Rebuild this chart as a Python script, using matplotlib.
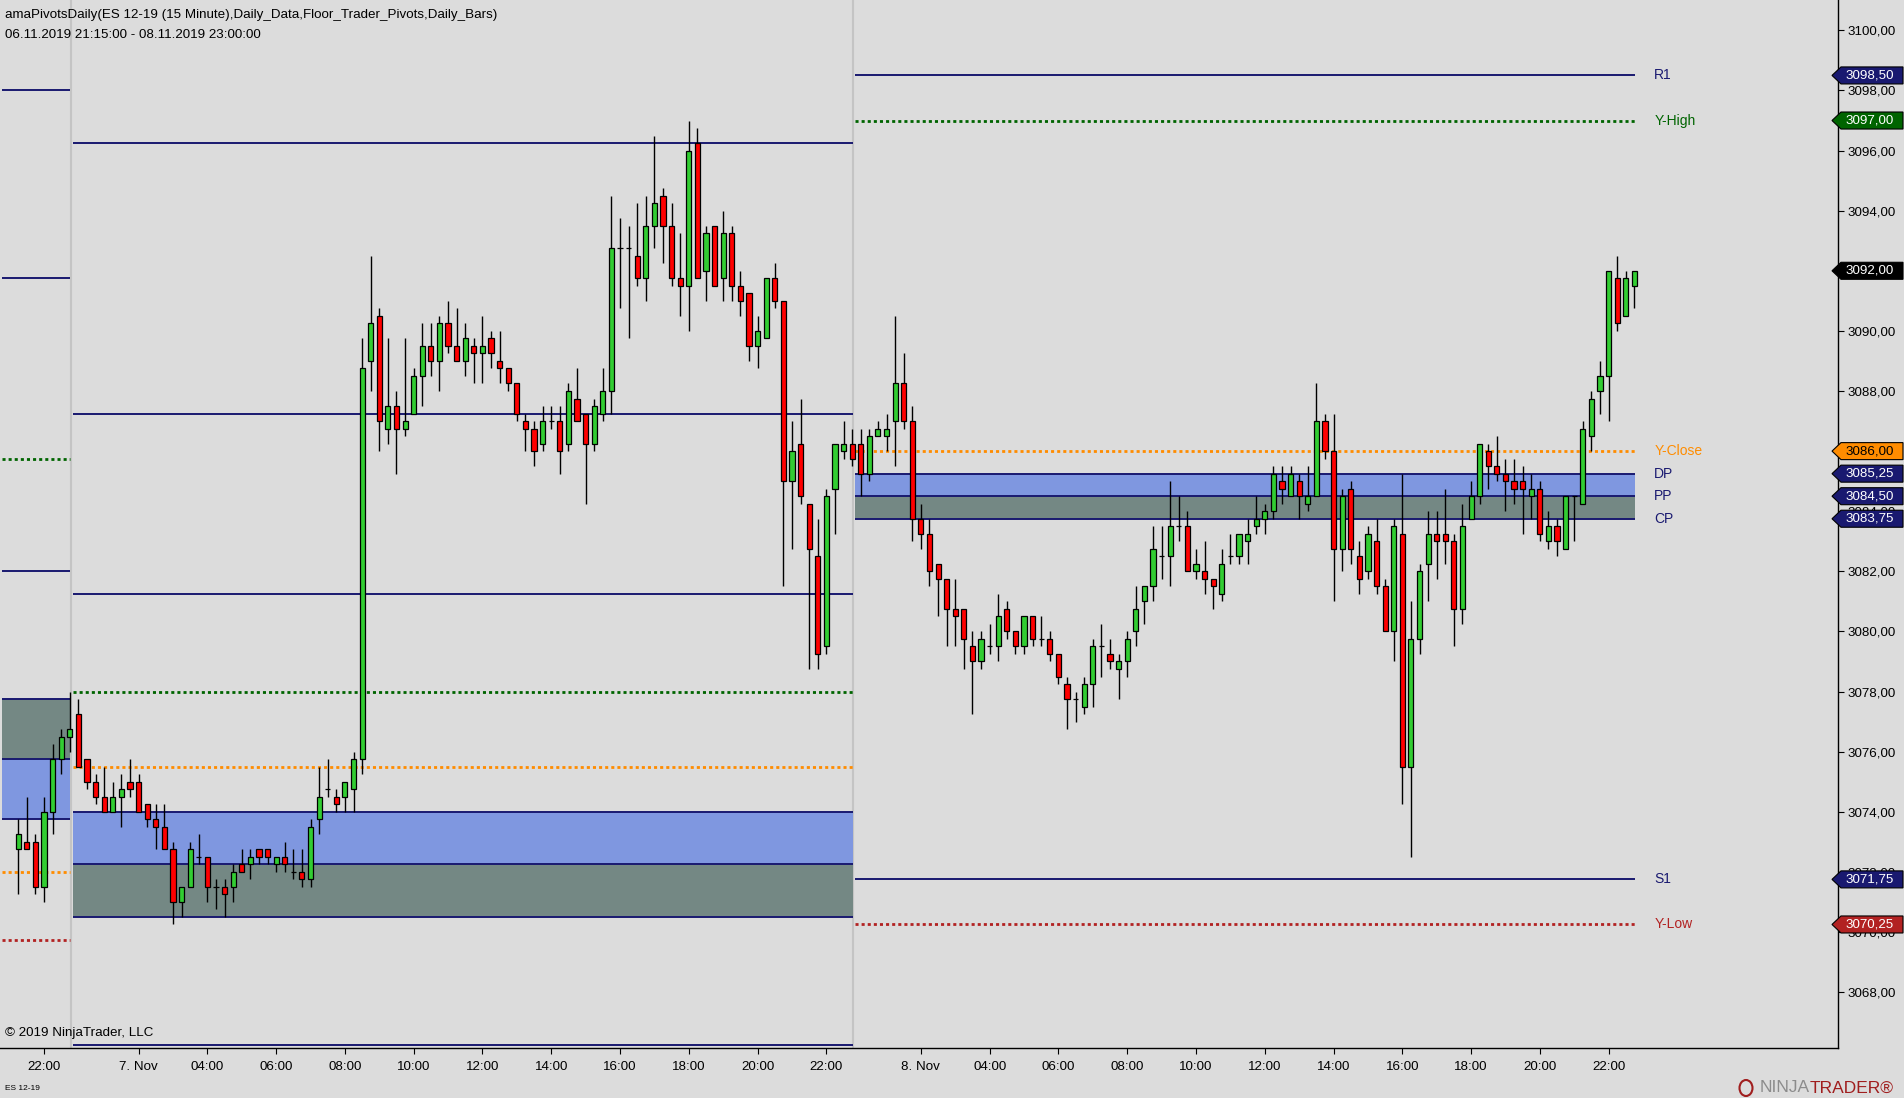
import numpy as np
import pandas as pd
import matplotlib
matplotlib.use('Agg')
import matplotlib.pyplot as plt
from matplotlib.patches import Polygon, Ellipse

plt.rcParams['font.family'] = ['Liberation Sans', 'DejaVu Sans']
plt.rcParams['font.size'] = 9.6

# ---- 15 minute bars, ES 12-19 (open, high, low, close) ----
open_6 = [3072.75, 3073.0, 3073.0, 3071.5, 3074.0, 3075.75, 3076.5]
high_6 = [3073.75, 3074.5, 3073.25, 3074.5, 3076.25, 3076.75, 3078.0]
low_6 = [3071.25, 3072.75, 3071.25, 3071.0, 3073.25, 3075.25, 3076.0]
close_6 = [3073.25, 3072.75, 3071.5, 3074.0, 3075.75, 3076.5, 3076.75]

open_7 = [3077.25, 3075.75, 3075.0, 3074.5, 3074.0, 3074.5, 3075.0, 3075.0, 3074.25, 3073.75,
          3073.5, 3072.75, 3071.0, 3071.5, 3072.5, 3072.5, 3071.5, 3071.5, 3071.5, 3072.25,
          3072.25, 3072.75, 3072.75, 3072.25, 3072.5, 3072.0, 3072.0, 3071.75, 3073.75, 3074.75,
          3074.5, 3074.5, 3074.75, 3075.75, 3089.0, 3090.5, 3086.75, 3087.5, 3086.75, 3087.25,
          3088.5, 3089.5, 3089.0, 3090.25, 3089.5, 3089.0, 3089.5, 3089.25, 3089.75, 3089.0,
          3088.75, 3088.25, 3087.0, 3086.75, 3086.25, 3087.0, 3087.0, 3086.25, 3087.75, 3087.25,
          3086.25, 3087.25, 3088.0, 3092.75, 3092.75, 3092.5, 3091.75, 3093.5, 3094.5, 3093.5,
          3091.75, 3091.5, 3096.25, 3092.0, 3093.5, 3091.75, 3093.25, 3091.5, 3091.25, 3089.5,
          3089.75, 3091.75, 3091.0, 3085.0, 3086.25, 3084.25, 3082.5, 3079.5, 3084.75, 3086.0,
          3086.25]
high_7 = [3077.75, 3075.75, 3075.25, 3075.5, 3075.0, 3075.25, 3075.75, 3075.25, 3074.25, 3074.25,
          3074.25, 3073.0, 3071.5, 3073.0, 3073.25, 3072.5, 3071.75, 3071.75, 3072.25, 3072.75,
          3072.75, 3072.75, 3072.75, 3072.5, 3073.0, 3072.75, 3072.75, 3073.75, 3075.5, 3075.75,
          3074.75, 3075.0, 3076.0, 3089.75, 3092.5, 3090.75, 3089.75, 3088.0, 3089.75, 3088.75,
          3090.25, 3090.25, 3090.5, 3091.0, 3090.75, 3090.25, 3089.75, 3090.5, 3090.0, 3090.0,
          3088.75, 3088.25, 3087.25, 3087.0, 3087.5, 3087.5, 3087.5, 3088.25, 3088.75, 3087.25,
          3087.75, 3088.75, 3094.5, 3093.75, 3093.5, 3094.25, 3094.5, 3096.5, 3094.75, 3094.25,
          3093.25, 3097.0, 3096.75, 3093.5, 3093.5, 3094.0, 3093.5, 3092.0, 3091.25, 3090.5,
          3091.75, 3092.25, 3091.0, 3087.0, 3087.75, 3084.25, 3083.75, 3084.75, 3086.25, 3087.0,
          3086.75]
low_7 = [3075.5, 3074.75, 3074.25, 3074.0, 3074.0, 3073.5, 3074.5, 3074.0, 3073.5, 3072.75,
         3072.75, 3070.25, 3070.5, 3071.5, 3072.25, 3071.0, 3070.75, 3070.5, 3071.0, 3072.0,
         3071.75, 3072.25, 3072.25, 3072.0, 3072.0, 3071.75, 3071.5, 3071.5, 3073.25, 3074.5,
         3074.0, 3074.0, 3074.0, 3075.25, 3088.0, 3086.0, 3086.25, 3085.25, 3086.5, 3087.25,
         3087.5, 3088.5, 3088.0, 3089.25, 3089.0, 3088.5, 3088.25, 3088.25, 3088.75, 3088.25,
         3088.0, 3087.0, 3086.0, 3085.5, 3086.0, 3086.75, 3085.25, 3086.0, 3087.0, 3084.25,
         3086.0, 3087.0, 3087.25, 3090.75, 3089.75, 3091.5, 3091.0, 3092.75, 3092.25, 3091.5,
         3090.5, 3090.0, 3091.75, 3091.0, 3091.5, 3091.0, 3091.0, 3090.5, 3089.0, 3088.75,
         3089.75, 3090.75, 3081.5, 3082.75, 3084.25, 3078.75, 3078.75, 3079.25, 3083.25, 3085.75,
         3085.5]
close_7 = [3075.5, 3075.0, 3074.5, 3074.0, 3074.5, 3074.75, 3074.75, 3074.0, 3073.75, 3073.5,
           3072.75, 3071.0, 3071.5, 3072.75, 3072.5, 3071.5, 3071.5, 3071.25, 3072.0, 3072.0,
           3072.5, 3072.5, 3072.5, 3072.5, 3072.25, 3072.0, 3071.75, 3073.5, 3074.5, 3074.75,
           3074.25, 3075.0, 3075.75, 3088.75, 3090.25, 3087.0, 3087.5, 3086.75, 3087.0, 3088.5,
           3089.5, 3089.0, 3090.25, 3089.5, 3089.0, 3089.75, 3089.25, 3089.5, 3089.25, 3088.75,
           3088.25, 3087.25, 3086.75, 3086.0, 3087.0, 3087.0, 3086.0, 3088.0, 3087.0, 3086.25,
           3087.5, 3088.0, 3092.75, 3092.75, 3092.75, 3091.75, 3093.5, 3094.25, 3093.5, 3091.75,
           3091.5, 3096.0, 3091.75, 3093.25, 3091.5, 3093.25, 3091.5, 3091.0, 3089.5, 3090.0,
           3091.75, 3091.0, 3085.0, 3086.0, 3084.5, 3082.75, 3079.25, 3084.5, 3086.25, 3086.25,
           3085.75]

open_8 = [3086.25, 3085.25, 3086.5, 3086.5, 3087.0, 3088.25, 3087.0, 3083.75, 3083.25, 3082.25,
          3081.75, 3080.75, 3080.75, 3079.5, 3079.0, 3079.5, 3079.5, 3080.75, 3080.0, 3079.5,
          3080.5, 3079.75, 3079.75, 3079.25, 3078.25, 3077.75, 3077.5, 3078.25, 3079.5, 3079.25,
          3078.75, 3079.0, 3080.0, 3081.0, 3081.5, 3082.5, 3082.5, 3083.5, 3083.5, 3082.0,
          3082.0, 3081.75, 3081.25, 3082.5, 3082.5, 3083.0, 3083.5, 3083.75, 3084.0, 3085.0,
          3084.5, 3085.0, 3084.25, 3084.5, 3087.0, 3086.0, 3082.75, 3084.75, 3082.5, 3082.0,
          3083.0, 3081.5, 3080.0, 3083.25, 3075.5, 3079.75, 3082.25, 3083.25, 3083.25, 3083.0,
          3080.75, 3083.75, 3084.5, 3086.0, 3085.5, 3085.25, 3085.0, 3085.0, 3084.5, 3084.75,
          3083.0, 3083.5, 3082.75, 3084.5, 3084.25, 3086.5, 3088.0, 3088.5, 3091.75, 3090.5,
          3091.5]
high_8 = [3086.75, 3086.75, 3087.0, 3087.25, 3090.5, 3089.25, 3087.5, 3084.25, 3083.75, 3082.25,
          3081.75, 3081.75, 3080.75, 3080.0, 3080.0, 3080.25, 3081.25, 3081.0, 3080.0, 3080.5,
          3080.5, 3080.5, 3080.0, 3079.25, 3078.5, 3078.0, 3078.5, 3079.75, 3080.25, 3079.75,
          3079.25, 3080.0, 3081.5, 3081.5, 3083.5, 3083.5, 3085.0, 3084.5, 3084.0, 3082.75,
          3083.0, 3081.75, 3082.75, 3083.25, 3083.25, 3083.75, 3084.5, 3084.25, 3085.5, 3085.5,
          3085.5, 3085.25, 3085.5, 3088.25, 3087.25, 3087.25, 3084.75, 3085.0, 3083.0, 3083.5,
          3083.75, 3081.75, 3083.75, 3085.25, 3081.0, 3082.25, 3084.0, 3084.0, 3084.75, 3083.25,
          3084.25, 3085.0, 3086.25, 3086.25, 3086.5, 3085.75, 3085.75, 3085.5, 3085.25, 3085.0,
          3084.0, 3083.75, 3084.5, 3084.5, 3087.0, 3088.0, 3089.0, 3092.0, 3092.5, 3092.0,
          3092.0]
low_8 = [3084.5, 3085.0, 3086.5, 3086.0, 3085.5, 3086.75, 3083.0, 3082.75, 3081.5, 3080.5,
         3079.5, 3079.5, 3078.75, 3077.25, 3078.75, 3079.25, 3079.0, 3079.75, 3079.25, 3079.25,
         3079.5, 3079.5, 3079.0, 3078.25, 3076.75, 3077.0, 3077.25, 3077.5, 3078.5, 3078.75,
         3077.75, 3078.5, 3079.5, 3080.25, 3081.0, 3081.75, 3081.5, 3083.0, 3082.0, 3081.75,
         3081.25, 3080.75, 3081.0, 3082.25, 3082.25, 3082.25, 3083.25, 3083.25, 3083.75, 3084.25,
         3084.5, 3083.75, 3084.0, 3084.5, 3085.75, 3081.0, 3082.0, 3082.25, 3081.25, 3081.75,
         3081.25, 3080.0, 3079.0, 3074.25, 3072.5, 3079.25, 3081.0, 3081.75, 3082.25, 3079.5,
         3080.25, 3083.75, 3084.25, 3084.75, 3085.0, 3084.0, 3084.25, 3083.25, 3083.75, 3083.0,
         3082.75, 3082.5, 3082.75, 3083.0, 3084.25, 3086.0, 3087.25, 3087.0, 3090.0, 3090.5,
         3090.75]
close_8 = [3085.25, 3086.5, 3086.75, 3086.75, 3088.25, 3087.0, 3083.75, 3083.25, 3082.0, 3081.75,
           3080.75, 3080.5, 3079.75, 3079.0, 3079.75, 3079.5, 3080.5, 3080.0, 3079.5, 3080.5,
           3079.75, 3079.75, 3079.25, 3078.5, 3077.75, 3077.75, 3078.25, 3079.5, 3079.5, 3079.0,
           3079.0, 3079.75, 3080.75, 3081.5, 3082.75, 3082.5, 3083.5, 3083.5, 3082.0, 3082.25,
           3081.75, 3081.5, 3082.25, 3082.5, 3083.25, 3083.25, 3083.75, 3084.0, 3085.25, 3084.75,
           3085.25, 3084.5, 3084.5, 3087.0, 3086.0, 3082.75, 3084.5, 3082.75, 3081.75, 3083.25,
           3081.5, 3080.0, 3083.5, 3075.5, 3079.75, 3082.0, 3083.25, 3083.0, 3083.0, 3080.75,
           3083.5, 3084.5, 3086.25, 3085.5, 3085.25, 3085.0, 3084.75, 3084.75, 3084.75, 3083.25,
           3083.5, 3083.0, 3084.5, 3084.5, 3086.75, 3087.75, 3088.5, 3092.0, 3090.25, 3091.75,
           3092.0]

# ---- daily floor trader pivots, one entry per session (6., 7., 8. Nov) ----
pivot_lines = [[3098.0, 3091.75, 3082.0],
               [3096.25, 3087.25, 3081.25, 3066.25],
               [3098.5, 3071.75]]
last_line_names = ['R1', 'S1']
dp_level = [3073.75, 3074.0, 3085.25]
pp_level = [3075.75, 3072.25, 3084.5]
cp_level = [3077.75, 3070.5, 3083.75]
y_high = [3085.75, 3078.0, 3097.0]
y_close = [3072.0, 3075.5, 3086.0]
y_low = [3069.75, np.nan, 3070.25]

# ---- colours ----
BG = '#DCDCDC'
NAVY = '#191970'
UP = '#32CD32'
DOWN = '#FF0000'
GREEN = '#006400'
ORANGE = '#FF8C00'
FIREBRICK = '#B22222'
BAND_BLUE = '#7F97E0'
BAND_GREY = '#748884'


def session_times(day, start):
    t = pd.date_range(f'2019-11-{day:02d} {start}', f'2019-11-{day:02d} 23:00', freq='15min')
    return t[t.strftime('%H:%M') != '22:30']


times = session_times(6, '21:15').append(session_times(7, '00:15')).append(session_times(8, '00:15'))

opens = np.array(open_6 + open_7 + open_8)
highs = np.array(high_6 + high_7 + high_8)
lows = np.array(low_6 + low_7 + low_8)
closes = np.array(close_6 + close_7 + close_8)
x = np.arange(len(opens))

sess_len = [len(open_6), len(open_7), len(open_8)]
sess_last = list(np.cumsum(sess_len) - 1)
sess_first = [0] + [l + 1 for l in sess_last[:-1]]

fig = plt.figure(figsize=(19.04, 10.98), dpi=100, facecolor=BG)
ax = fig.add_axes([0, 1 - 1048 / 1098, 1838 / 1904, 1048 / 1098])
ax.set_facecolor(BG)

xmin, xmax = -2.12, 211.68
ax.set_xlim(xmin, xmax)
ax.set_ylim(3066.14, 3101.01)

# session separators
for l in sess_last[:-1]:
    ax.axvline(l + 0.1, color='#C4C4C4', lw=1.5, zorder=0.5)

# pivot lines and bands
for s in range(3):
    x0 = xmin + 0.25 if s == 0 else sess_first[s] - 0.65
    x1 = sess_last[s] + 0.05
    ax.fill_between([x0, x1], dp_level[s], pp_level[s], color=BAND_BLUE, lw=0, zorder=1)
    ax.fill_between([x0, x1], pp_level[s], cp_level[s], color=BAND_GREY, lw=0, zorder=1)
    ax.hlines([dp_level[s], pp_level[s], cp_level[s]] + pivot_lines[s], x0, x1,
              color=NAVY, lw=1.4, zorder=2)
    for lev, col in [(y_high[s], GREEN), (y_close[s], ORANGE), (y_low[s], FIREBRICK)]:
        if not np.isnan(lev):
            ax.hlines(lev, x0, x1, color=col, lw=2.0, linestyles=[(0, (1.1, 1.1))], zorder=2)

# labels of the current session
lx = sess_last[2] + 2.3
labels = [(pivot_lines[2][0], last_line_names[0], NAVY), (y_high[2], 'Y-High', GREEN),
          (y_close[2], 'Y-Close', ORANGE), (dp_level[2], 'DP', NAVY), (pp_level[2], 'PP', NAVY),
          (cp_level[2], 'CP', NAVY), (pivot_lines[2][1], last_line_names[1], NAVY),
          (y_low[2], 'Y-Low', FIREBRICK)]
for lev, name, col in labels:
    ax.text(lx, lev, name, color=col, fontsize=10, ha='left', va='center', zorder=5)

# candles
up = closes >= opens
ax.vlines(x, lows, highs, color='black', lw=1.0, zorder=3)
ax.bar(x, np.abs(closes - opens), bottom=np.minimum(opens, closes), width=0.6,
       color=np.where(up, UP, DOWN), edgecolor='black', linewidth=0.9, zorder=4)

# axes styling
for side in ['top', 'left']:
    ax.spines[side].set_visible(False)
for side in ['right', 'bottom']:
    ax.spines[side].set_color('black')
    ax.spines[side].set_linewidth(1.0)

yt = np.arange(3068, 3101, 2)
ax.yaxis.tick_right()
ax.set_yticks(yt)
ax.set_yticklabels([f'{v:.2f}'.replace('.', ',') for v in yt])
ax.tick_params(axis='y', direction='out', length=4, width=0.8, pad=3, labelsize=9.6)

tick_idx = [k for k, t in enumerate(times) if t.minute == 0 and t.hour % 2 == 0]
tick_lab = [f'{t.day}. Nov' if t.hour == 2 else t.strftime('%H:%M') for t in times[tick_idx]]
ax.set_xticks(tick_idx)
ax.set_xticklabels(tick_lab)
ax.tick_params(axis='x', direction='out', length=4, width=0.8, pad=5, labelsize=9.6)

# price markers on the right axis
tr = ax.get_yaxis_transform()
markers = [(pivot_lines[2][0], NAVY, 'white'), (y_high[2], GREEN, 'white'),
           (closes[-1], 'black', 'white'), (y_close[2], ORANGE, 'black'),
           (dp_level[2], NAVY, 'white'), (pp_level[2], NAVY, 'white'),
           (cp_level[2], NAVY, 'white'), (pivot_lines[2][1], NAVY, 'white'),
           (y_low[2], FIREBRICK, 'white')]
h = 8.5 / 30.05
for v, fc, tc in markers:
    pts = [(1832 / 1838, v), (1841 / 1838, v + h), (1903 / 1838, v + h),
           (1903 / 1838, v - h), (1841 / 1838, v - h)]
    ax.add_patch(Polygon(pts, closed=True, transform=tr, facecolor=fc, edgecolor='black',
                         lw=0.8, clip_on=False, zorder=10))
    ax.text(1846 / 1838, v, f'{v:.2f}'.replace('.', ','), transform=tr, color=tc,
            fontsize=9.6, ha='left', va='center', clip_on=False, zorder=11)

# header and footer texts
fig.text(5 / 1904, 1 - 15 / 1098,
         'amaPivotsDaily(ES 12-19 (15 Minute),Daily_Data,Floor_Trader_Pivots,Daily_Bars)',
         ha='left', va='center', fontsize=9.6)
fig.text(5 / 1904, 1 - 35 / 1098, '06.11.2019 21:15:00 - 08.11.2019 23:00:00',
         ha='left', va='center', fontsize=9.6)
fig.text(5 / 1904, 1 - 1033 / 1098, '\u00a9 2019 NinjaTrader, LLC', ha='left', va='center',
         fontsize=9.6)
fig.text(5 / 1904, 1 - 1088 / 1098, 'ES 12-19', ha='left', va='center', fontsize=6)

# NinjaTrader logo
fig.text(1810 / 1904, 1 - 1088 / 1098, 'NINJA', ha='right', va='center', fontsize=12.5,
         color='#8C8C8C')
fig.text(1810 / 1904, 1 - 1088 / 1098, 'TRADER\u00ae', ha='left', va='center', fontsize=12.5,
         color='#A01E1E')
fig.patches.append(Ellipse((1746 / 1904, 1 - 1088 / 1098), 13 / 1904, 16 / 1098,
                           transform=fig.transFigure, facecolor='none', edgecolor='#A01E1E',
                           lw=1.5))

fig.savefig('out.png', dpi=100, facecolor=BG)
